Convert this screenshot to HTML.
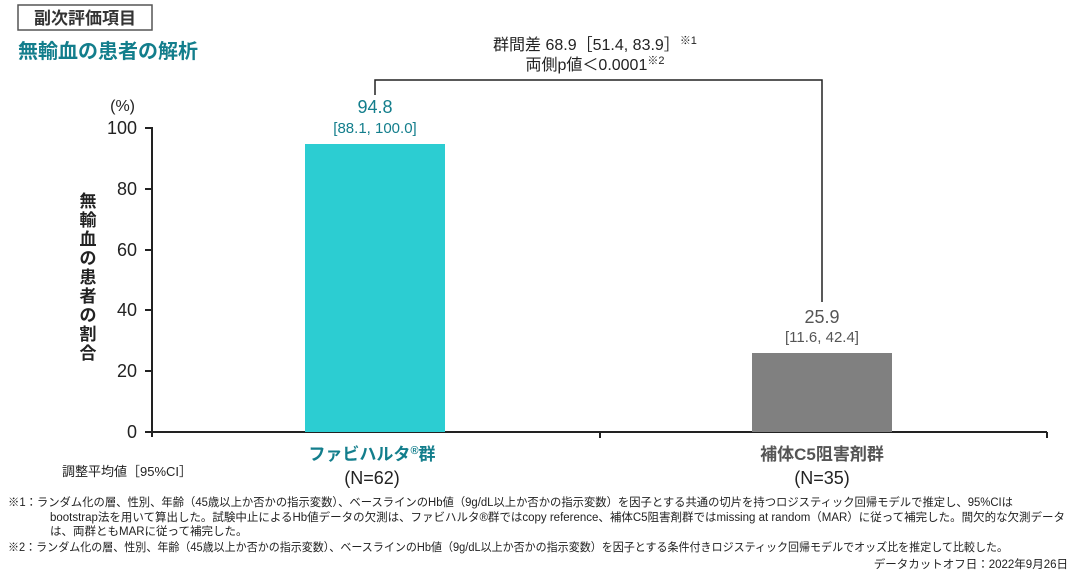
<!DOCTYPE html>
<html><head><meta charset="utf-8"><style>
body{margin:0;background:#fff;}
svg text{font-family:"Liberation Sans","Noto Sans CJK JP",sans-serif;}
</style></head><body>
<svg width="1080" height="579" viewBox="0 0 1080 579" xmlns="http://www.w3.org/2000/svg">
<rect x="18" y="5" width="134" height="25" fill="#fff" stroke="#555" stroke-width="1.5"/>
<text x="85" y="24" font-size="17" font-weight="bold" fill="#333" text-anchor="middle">副次評価項目</text>
<text x="18" y="58" font-size="20" font-weight="bold" fill="#137e8c">無輸血の患者の解析</text>
<text x="595" y="50" font-size="16" fill="#222" text-anchor="middle">群間差 68.9［51.4, 83.9］<tspan font-size="11" dy="-6">※1</tspan></text>
<text x="595" y="70" font-size="16" fill="#222" text-anchor="middle">両側p値＜0.0001<tspan font-size="11" dy="-6">※2</tspan></text>
<polyline points="375,95 375,80 822,80 822,302" fill="none" stroke="#222" stroke-width="1.5"/>
<text x="135" y="111" font-size="16" fill="#222" text-anchor="end">(%)</text>
<g font-size="18" fill="#222" text-anchor="end">
<text x="137" y="134">100</text><text x="137" y="195">80</text><text x="137" y="256">60</text><text x="137" y="316">40</text><text x="137" y="377">20</text><text x="137" y="438">0</text>
</g>
<g stroke="#222" stroke-width="2">
<line x1="152" y1="127" x2="152" y2="437"/>
<line x1="145" y1="128" x2="152" y2="128"/><line x1="145" y1="189" x2="152" y2="189"/><line x1="145" y1="250" x2="152" y2="250"/><line x1="145" y1="310" x2="152" y2="310"/><line x1="145" y1="371" x2="152" y2="371"/><line x1="145" y1="432" x2="152" y2="432"/>
<line x1="152" y1="432" x2="1047" y2="432"/>
<line x1="600" y1="432" x2="600" y2="438"/><line x1="1047" y1="432" x2="1047" y2="438"/>
</g>
<g font-size="17" font-weight="bold" fill="#222" text-anchor="middle">
<text x="88" y="207">無</text><text x="88" y="226">輸</text><text x="88" y="245">血</text><text x="88" y="264">の</text><text x="88" y="283">患</text><text x="88" y="302">者</text><text x="88" y="321">の</text><text x="88" y="340">割</text><text x="88" y="359">合</text>
</g>
<rect x="305" y="144" width="140" height="288" fill="#2ccdd2"/>
<rect x="752" y="353" width="140" height="79" fill="#808080"/>
<text x="375" y="113" font-size="18" fill="#137e8c" text-anchor="middle">94.8</text>
<text x="375" y="133" font-size="15" fill="#137e8c" text-anchor="middle">[88.1, 100.0]</text>
<text x="822" y="323" font-size="18" fill="#555" text-anchor="middle">25.9</text>
<text x="822" y="342" font-size="15" fill="#555" text-anchor="middle">[11.6, 42.4]</text>
<text x="372" y="460" font-size="17" font-weight="bold" fill="#137e8c" text-anchor="middle">ファビハルタ<tspan font-size="11" dy="-6">®</tspan><tspan dy="6">群</tspan></text>
<text x="372" y="484" font-size="18" fill="#222" text-anchor="middle">(N=62)</text>
<text x="822" y="460" font-size="17" font-weight="bold" fill="#555" text-anchor="middle">補体C5阻害剤群</text>
<text x="822" y="484" font-size="18" fill="#222" text-anchor="middle">(N=35)</text>
<text x="62" y="476" font-size="13" fill="#222">調整平均値［95%CI］</text>
<g font-size="11.5" fill="#222">
<text x="8" y="506" textLength="1005" lengthAdjust="spacingAndGlyphs">※1：ランダム化の層、性別、年齢（45歳以上か否かの指示変数）、ベースラインのHb値（9g/dL以上か否かの指示変数）を因子とする共通の切片を持つロジスティック回帰モデルで推定し、95%CIは</text>
<text x="50" y="521" textLength="1015" lengthAdjust="spacingAndGlyphs">bootstrap法を用いて算出した。試験中止によるHb値データの欠測は、ファビハルタ®群ではcopy reference、補体C5阻害剤群ではmissing at random（MAR）に従って補完した。間欠的な欠測データ</text>
<text x="50" y="535">は、両群ともMARに従って補完した。</text>
<text x="8" y="551" textLength="1000" lengthAdjust="spacingAndGlyphs">※2：ランダム化の層、性別、年齢（45歳以上か否かの指示変数）、ベースラインのHb値（9g/dL以上か否かの指示変数）を因子とする条件付きロジスティック回帰モデルでオッズ比を推定して比較した。</text>
<text x="1068" y="568" text-anchor="end">データカットオフ日：2022年9月26日</text>
</g>
</svg>
</body></html>
